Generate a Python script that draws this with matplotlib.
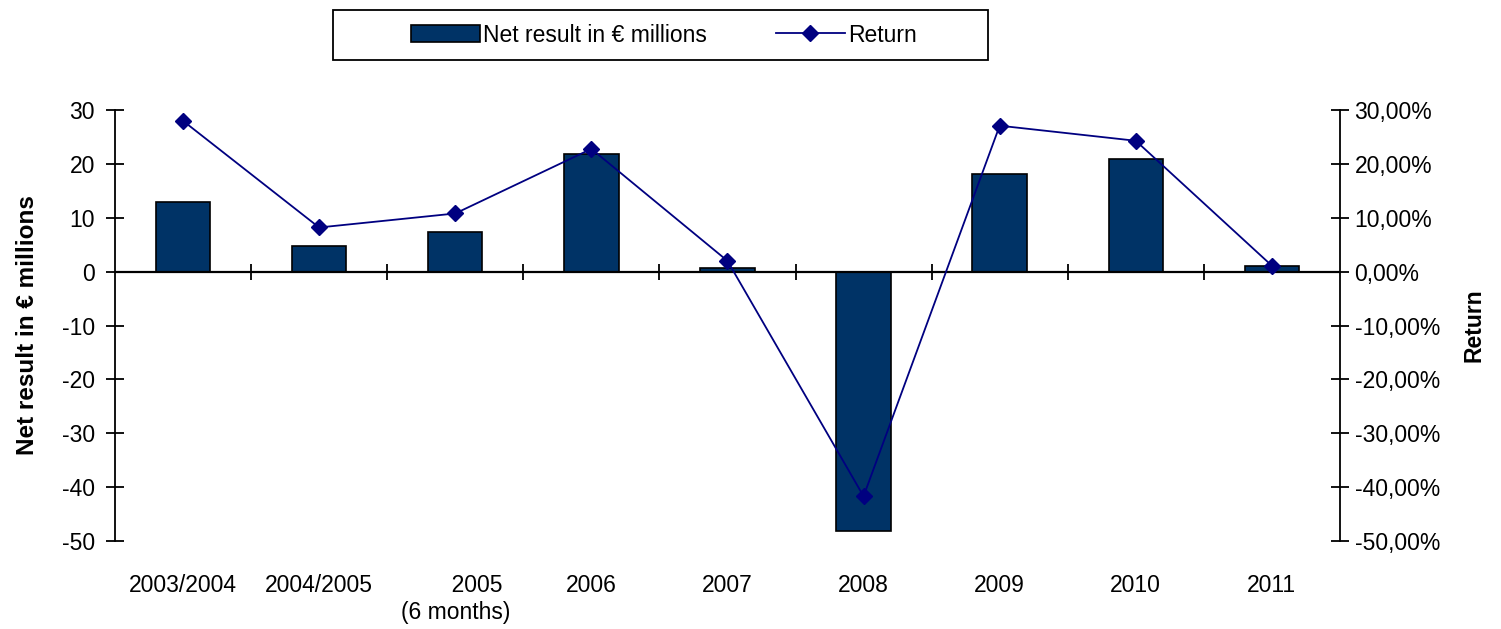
import numpy as np
import matplotlib.pyplot as plt
from matplotlib.patches import Rectangle
from matplotlib.ticker import FuncFormatter

plt.rcParams['font.family'] = ['Liberation Sans', 'DejaVu Sans']
plt.rcParams['axes.unicode_minus'] = False

categories = ['2003/2004', '2004/2005', '       2005\n(6 months)', '2006', '2007',
              '2008', '2009', '2010', '2011']
net_result = [13.0, 4.8, 7.4, 21.9, 0.7, -48.2, 18.2, 21.0, 1.1]
returns = [0.280, 0.082, 0.108, 0.228, 0.020, -0.417, 0.271, 0.243, 0.011]

bar_color = '#003366'
line_color = '#000080'
fs = 16.5

fig = plt.figure(figsize=(15.01, 6.29), dpi=100)
ax = fig.add_axes([0.0766, 0.140, 0.8161, 0.685])
x = np.arange(len(categories))

bars = ax.bar(x, net_result, width=0.4, color=bar_color, edgecolor='black',
              linewidth=1.2, zorder=2, label='Net result in € millions')
ax.set_xlim(-0.5, len(categories) - 0.5)
ax.set_ylim(-50, 30)
ax.set_yticks(np.arange(-50, 31, 10))
ax.axhline(0, color='black', linewidth=1.6, zorder=3)
# category separators on the zero line
ax.plot(x[:-1] + 0.5, np.zeros(len(x) - 1), linestyle='none', marker='|',
        markersize=12, markeredgewidth=1.3, color='black', zorder=3)

ax.set_xticks(x)
ax.set_xticklabels(categories, fontsize=fs)
ax.tick_params(axis='x', length=0, pad=24)
ax.tick_params(axis='y', direction='inout', length=13, width=1.3, labelsize=fs, pad=8)
for s in ['top', 'bottom', 'right']:
    ax.spines[s].set_visible(False)
ax.spines['left'].set_linewidth(1.3)
ax.set_ylabel('Net result in € millions', fontsize=17.5, fontweight='bold', labelpad=16)

ax2 = ax.twinx()
line, = ax2.plot(x, returns, color=line_color, linewidth=1.3, marker='D',
                 markersize=8, zorder=4, label='Return')
ax2.set_ylim(-0.5, 0.3)
ax2.set_yticks(np.arange(-0.5, 0.31, 0.1))
ax2.yaxis.set_major_formatter(FuncFormatter(lambda v, p: f'{v*100:.2f}%'.replace('.', ',').replace('-0,00', '0,00')))
ax2.tick_params(axis='y', direction='inout', length=13, width=1.3, labelsize=fs, pad=4)
for s in ['top', 'bottom', 'left']:
    ax2.spines[s].set_visible(False)
ax2.spines['right'].set_linewidth(1.3)
ax2.set_ylabel('Return', fontsize=fs, fontweight='bold', labelpad=16)

# legend box
fig.patches.append(Rectangle((333 / 1501, 1 - 60 / 629), 655 / 1501, 50 / 629,
                             transform=fig.transFigure, fill=False,
                             edgecolor='black', linewidth=1.3))
fig.legend([bars, line], ['Net result in € millions', 'Return'], loc='center',
           bbox_to_anchor=(664 / 1501, 1 - 35 / 629), ncol=2, frameon=False,
           fontsize=fs, handlelength=3.0, handleheight=0.8, handletextpad=0.15,
           columnspacing=3.0)

fig.savefig('out.png', dpi=100)
